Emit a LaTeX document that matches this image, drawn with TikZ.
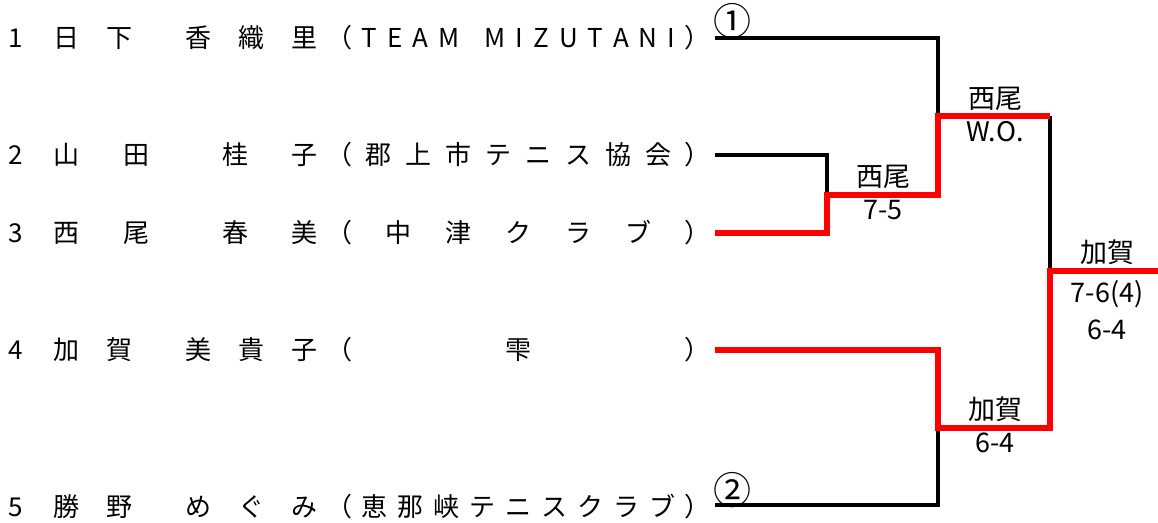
\documentclass[tikz,border=0pt]{standalone}
\usepackage{fontspec}
\setmainfont{Noto Sans CJK JP}
\makeatletter
\def\spr@#1#2\@nil{#1\if\relax\detokenize{#2}\relax\else\hfill\spr@#2\@nil\fi}
\newcommand\spreadbox[2]{\makebox[#1]{\spr@#2\@nil}}
\makeatother
\tikzset{
  txt/.style={inner sep=0pt, text height=11.4pt, text depth=1.6pt,
    font=\fontsize{13pt}{15pt}\selectfont},
  score/.style={txt, font=\fontsize{13.5pt}{16pt}\selectfont},
  seed/.style={inner sep=0pt, font=\fontsize{19pt}{21pt}\selectfont},
  loser/.style={line width=1.6pt, black},
  winner/.style={line width=2.7pt, red},
}
\begin{document}
\begin{tikzpicture}[x=0.5pt, y=-0.5pt]
\useasboundingbox (0,0) rectangle (1158,523);
% players
\node[txt] (no1) at (16,38) {1};
\node[txt] (sur1) at (93.5,38) {\spreadbox{39.5pt}{日下}};
\node[txt] (giv1) at (251.5,38) {\spreadbox{66.5pt}{香織里}};
\node[txt] (club1) at (518.5,38) {\spreadbox{192.5pt}{（TEAM~MIZUTANI）}};
\node[txt] (no2) at (16,155) {2};
\node[txt] (sur2) at (102,155) {\spreadbox{48pt}{山田}};
\node[txt] (giv2) at (270,155) {\spreadbox{48pt}{桂子}};
\node[txt] (club2) at (518.5,155) {\spreadbox{192.5pt}{（郡上市テニス協会）}};
\node[txt] (no3) at (16,233) {3};
\node[txt] (sur3) at (102,233) {\spreadbox{48pt}{西尾}};
\node[txt] (giv3) at (270,233) {\spreadbox{48pt}{春美}};
\node[txt] (club3) at (518.5,233) {\spreadbox{192.5pt}{（中津クラブ）}};
\node[txt] (no4) at (16,350) {4};
\node[txt] (sur4) at (93.5,350) {\spreadbox{39.5pt}{加賀}};
\node[txt] (giv4) at (251.5,350) {\spreadbox{66.5pt}{美貴子}};
\node[txt] (club4) at (518.5,350) {\spreadbox{192.5pt}{（雫）}};
\node[txt] (no5) at (16,507) {5};
\node[txt] (sur5) at (93.5,507) {\spreadbox{39.5pt}{勝野}};
\node[txt] (giv5) at (251.5,507) {\spreadbox{66.5pt}{めぐみ}};
\node[txt] (club5) at (518.5,507) {\spreadbox{192.5pt}{（恵那峡テニスクラブ）}};
% bracket points
\coordinate (p1) at (715,38);
\coordinate (p2) at (715,155);
\coordinate (p3) at (715,233);
\coordinate (p4) at (715,350);
\coordinate (p5) at (715,505);
\coordinate (m23) at (827,195);
\coordinate (s1) at (938,116);
\coordinate (s2) at (938,428);
\coordinate (f) at (1050,271);
\coordinate (fin) at (1158,271);
% lines
\draw[loser] (p1) -| (s1);
\draw[loser] (p2) -| (m23);
\draw[loser] (p5) -| (s2);
\draw[loser] (s1 -| f) -- (f);
\draw[winner] (p3) -| (m23) -| (s1) -- (s1 -| f);
\draw[winner] (p4) -| (s2) -| (f) -- (fin);
% seeds and results
\node[seed] (seed1) at (732,21) {①};
\node[seed] (seed2) at (732,490) {②};
\node[score] (w23) at (883,177) {西尾};
\node[score] (r23) at (883,210) {7-5};
\node[score] (ws1) at (995,99) {西尾};
\node[score] (rs1) at (995,132) {W.O.};
\node[score] (ws2) at (995,410) {加賀};
\node[score] (rs2) at (995,443) {6-4};
\node[score] (wf) at (1107,253) {加賀};
\node[score] (rf1) at (1107,293) {7-6(4)};
\node[score] (rf2) at (1107,330) {6-4};
\end{tikzpicture}
\end{document}
